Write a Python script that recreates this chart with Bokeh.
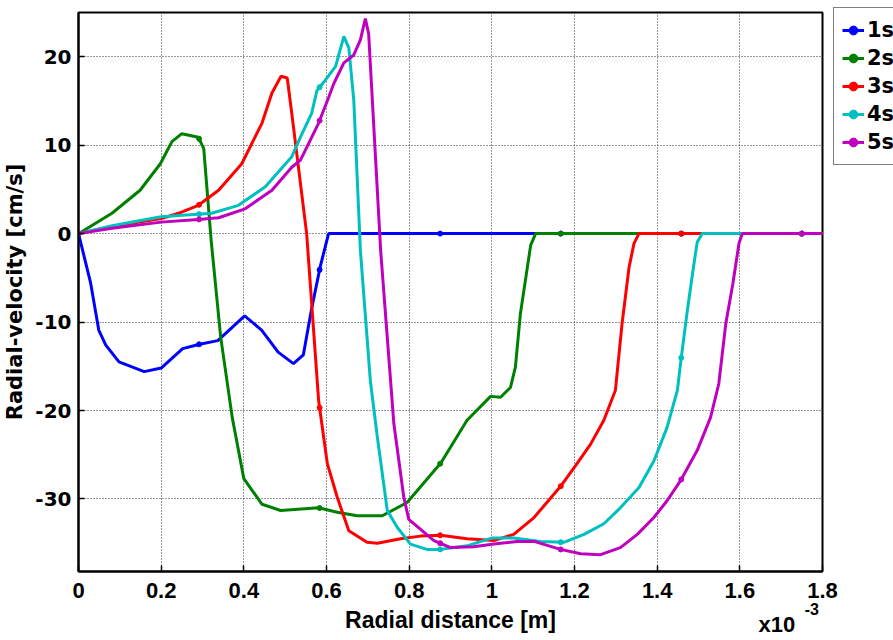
import numpy as np
from bokeh.plotting import figure
from bokeh.models import Range1d, FixedTicker, Legend, LegendItem, Label
from bokeh.embed import file_html
from bokeh.resources import INLINE

# ---- data (x in units of 1e-3 m, y in cm/s) ----
x_1s = [0, 0.029, 0.049, 0.066, 0.098, 0.159, 0.2, 0.252, 0.293, 0.337, 0.402, 0.443, 0.483, 0.52, 0.544, 0.564, 0.585, 0.605, 1.8]
y_1s = [0, -5.5, -10.9, -12.6, -14.5, -15.6, -15.2, -13.0, -12.5, -12.1, -9.3, -10.9, -13.4, -14.7, -13.7, -8.5, -3.7, 0, 0]

x_2s = [0, 0.081, 0.149, 0.198, 0.226, 0.25, 0.29, 0.303, 0.321, 0.344, 0.372, 0.4, 0.444, 0.489, 0.581, 0.626, 0.674, 0.735, 0.795, 0.877, 0.94, 0.997, 1.021, 1.045, 1.057, 1.069, 1.094, 1.106, 1.8]
y_2s = [0, 2.3, 4.9, 7.9, 10.4, 11.3, 10.9, 9.6, -0.8, -11.7, -20.8, -27.7, -30.6, -31.3, -31.0, -31.5, -31.9, -31.9, -30.4, -25.9, -21.1, -18.4, -18.5, -17.4, -15.1, -9.1, -1.3, 0, 0]

x_3s = [0, 0.081, 0.2, 0.242, 0.29, 0.339, 0.395, 0.444, 0.468, 0.49, 0.505, 0.516, 0.552, 0.581, 0.602, 0.626, 0.654, 0.698, 0.723, 0.779, 0.827, 0.876, 0.94, 1.005, 1.053, 1.102, 1.166, 1.203, 1.239, 1.271, 1.299, 1.315, 1.332, 1.344, 1.356, 1.8]
y_3s = [0, 0.8, 1.7, 2.3, 3.2, 4.9, 7.9, 12.5, 15.9, 17.8, 17.6, 13.6, 0, -18.9, -26.0, -29.8, -33.6, -34.9, -35.0, -34.5, -34.2, -34.1, -34.5, -34.7, -34.0, -32.1, -28.6, -26.2, -23.8, -21.1, -17.7, -10.2, -3.8, -1.1, 0, 0]

x_4s = [0, 0.081, 0.2, 0.322, 0.387, 0.452, 0.516, 0.537, 0.564, 0.577, 0.598, 0.622, 0.642, 0.654, 0.666, 0.682, 0.706, 0.723, 0.747, 0.771, 0.803, 0.843, 0.876, 0.94, 1.001, 1.053, 1.118, 1.174, 1.223, 1.271, 1.311, 1.356, 1.392, 1.424, 1.449, 1.457, 1.473, 1.489, 1.497, 1.509, 1.8]
y_4s = [0, 0.9, 1.9, 2.3, 3.2, 5.3, 8.7, 10.9, 13.6, 16.2, 17.4, 18.9, 22.3, 21.0, 15.1, -1.9, -16.6, -23.0, -31.3, -33.2, -35.1, -35.7, -35.7, -35.3, -34.4, -34.4, -34.8, -34.9, -34.0, -32.8, -31.0, -28.7, -25.7, -21.9, -17.7, -14.5, -8.7, -3.4, -0.95, 0, 0]

x_5s = [0, 0.081, 0.2, 0.29, 0.339, 0.403, 0.468, 0.516, 0.537, 0.581, 0.606, 0.618, 0.642, 0.666, 0.682, 0.694, 0.702, 0.731, 0.763, 0.787, 0.799, 0.827, 0.86, 0.9, 0.956, 1.005, 1.061, 1.102, 1.166, 1.215, 1.263, 1.311, 1.352, 1.392, 1.424, 1.457, 1.497, 1.529, 1.549, 1.566, 1.583, 1.598, 1.606, 1.8]
y_5s = [0, 0.6, 1.3, 1.6, 1.8, 2.8, 4.9, 7.5, 8.3, 12.5, 15.5, 17.0, 19.3, 20.2, 21.9, 24.3, 22.6, -1.9, -21.5, -29.8, -32.3, -33.4, -34.7, -35.5, -35.4, -35.1, -34.8, -34.8, -35.7, -36.2, -36.3, -35.5, -34.0, -32.1, -30.2, -27.9, -24.5, -20.8, -17.0, -10.2, -5.7, -1.1, 0, 0]

series_names = ["1s", "2s", "3s", "4s", "5s"]
series_x = [x_1s, x_2s, x_3s, x_4s, x_5s]
series_y = [y_1s, y_2s, y_3s, y_4s, y_5s]
colors = ["#0000FF", "#008000", "#FF0000", "#00BFBF", "#BF00BF"]

# marker positions (every N-th sample of the solver output)
marker_x = [0, 0.2917, 0.5833, 0.875, 1.1667, 1.4583, 1.75]

x_ticks = [0, 0.2, 0.4, 0.6, 0.8, 1.0, 1.2, 1.4, 1.6, 1.8]
x_tick_labels = ["0", "0.2", "0.4", "0.6", "0.8", "1", "1.2", "1.4", "1.6", "1.8"]
y_ticks = [-30, -20, -10, 0, 10, 20]
y_tick_labels = ["-30", "-20", "-10", "0", "10", "20"]
x_scale_text = "x10"
x_scale_exp = "-3"

FRAME_W, FRAME_H = 744, 559

p = figure(frame_width=FRAME_W, frame_height=FRAME_H,
           x_range=Range1d(0, 1.8), y_range=Range1d(-38.2, 25),
           output_backend="svg", toolbar_location=None,
           min_border_left=78, min_border_top=12, min_border_bottom=66, min_border_right=55)

p.outline_line_color = "black"
p.outline_line_width = 2

xax = p.below[0]
yax = p.left[0]

for ax in (xax, yax):
    ax.axis_line_color = "black"
    ax.axis_line_width = 2
    ax.major_tick_in = 6
    ax.major_tick_out = 0
    ax.minor_tick_line_color = None
    ax.major_tick_line_color = "black"
    ax.major_tick_line_width = 1.5
    ax.major_label_text_font_style = "bold"
    ax.axis_label_text_font_style = "bold"
    ax.major_label_text_color = "black"
    ax.axis_label_text_color = "black"

xax.ticker = FixedTicker(ticks=x_ticks)
xax.major_label_overrides = {t: l for t, l in zip(x_ticks, x_tick_labels)}
yax.ticker = FixedTicker(ticks=y_ticks)
yax.major_label_overrides = {t: l for t, l in zip(y_ticks, y_tick_labels)}

xax.axis_label = "Radial distance [m]"
xax.major_label_text_font = "Liberation Sans"
xax.major_label_text_font_size = "22px"
xax.axis_label_text_font = "Liberation Sans"
xax.axis_label_text_font_size = "23px"
xax.major_label_standoff = 11
xax.axis_label_standoff = 6

yax.axis_label = "Radial-velocity [cm/s]"
yax.major_label_text_font = "DejaVu Sans"
yax.major_label_text_font_size = "20px"
yax.axis_label_text_font = "DejaVu Sans"
yax.axis_label_text_font_size = "21px"
yax.major_label_standoff = 7
yax.axis_label_standoff = 5

for g, tk in ((p.xgrid[0], x_ticks), (p.ygrid[0], y_ticks)):
    g.grid_line_color = "#333333"
    g.grid_line_dash = "1 2"
    g.grid_line_width = 1
    g.ticker = FixedTicker(ticks=tk)

items = []
for name, xs, ys, c in zip(series_names, series_x, series_y, colors):
    r = p.line(xs, ys, line_color=c, line_width=3)
    my = np.interp(marker_x, xs, ys)
    s = p.scatter(marker_x, my, size=5, fill_color=c, line_color=c)
    items.append(LegendItem(label=name, renderers=[r, s]))

LEG_H = 8 * 2 + 5 * 28
legend = Legend(items=items, location=(11, FRAME_H + 3 - LEG_H),
                label_text_font="DejaVu Sans", label_text_font_style="bold",
                label_text_font_size="21px", label_text_color="black",
                glyph_width=22, glyph_height=28, label_height=28, spacing=0,
                padding=8, margin=0, label_standoff=3,
                border_line_color="black", border_line_width=1.5,
                background_fill_color="white", background_fill_alpha=1)
p.add_layout(legend, "right")

p.add_layout(Label(x=1.645, y=-45.6, text=x_scale_text, text_font="Liberation Sans",
                   text_font_style="bold", text_font_size="22px", text_color="black"), "below")
p.add_layout(Label(x=1.757, y=-43.1, text=x_scale_exp, text_font="Liberation Sans",
                   text_font_style="bold", text_font_size="16px", text_color="black"), "below")

open("out.html", "w").write(file_html(p, INLINE))
